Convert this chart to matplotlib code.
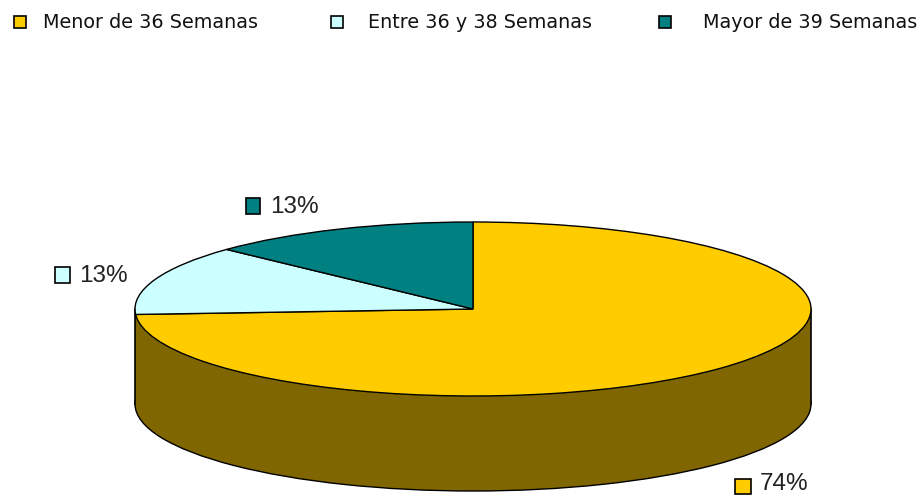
import matplotlib
matplotlib.use('Agg')
import matplotlib.pyplot as plt
from matplotlib.patches import Rectangle

plt.rcParams['font.family'] = ['Liberation Sans', 'DejaVu Sans']

categories = ['Menor de 36 Semanas', 'Entre 36 y 38 Semanas', 'Mayor de 39 Semanas']
values = [74, 13, 13]
labels = ['74%', '13%', '13%']
colors = ['#FFCC00', '#CCFFFF', '#008080']
side_color = '#806600'

W, H = 923, 497
fig = plt.figure(figsize=(W / 100, H / 100), dpi=100)

# pie axes is the box of the top ellipse, in pixels
cx, cy, rx, ry = 473, 309, 338, 87
depth = 95 / ry
ax = fig.add_axes([(cx - rx) / W, 1 - (cy + ry) / H, 2 * rx / W, 2 * ry / H])

# side wall: lower pie plus a block up to the top face
ax.pie([1], colors=[side_color], startangle=90, center=(0, -depth),
       wedgeprops=dict(edgecolor='black', linewidth=1.0, zorder=1))
ax.add_patch(Rectangle((-1, -depth), 2, depth, facecolor=side_color,
                       edgecolor='none', clip_on=False, zorder=2))
ax.plot([-1, -1], [0, -depth], color='black', lw=1.2, clip_on=False, zorder=3)
ax.plot([1, 1], [0, -depth], color='black', lw=1.2, clip_on=False, zorder=3)

wedges, _ = ax.pie(values, colors=colors, startangle=90, counterclock=False,
                   wedgeprops=dict(edgecolor='black', linewidth=1.0))
for w in wedges:
    w.set_zorder(4)

ax.set_aspect('auto')
ax.set_xlim(-1, 1)
ax.set_ylim(-1, 1)

# overlay in pixel coordinates for legend and labels
ov = fig.add_axes([0, 0, 1, 1], facecolor='none')
ov.set_xlim(0, W)
ov.set_ylim(H, 0)
ov.axis('off')


def swatch(x, y, w, h, color):
    ov.add_patch(Rectangle((x, y), w, h, facecolor=color, edgecolor='black', linewidth=1.2))


legend_sw = [14, 331, 659]
legend_tx = [43, 368, 703]
for name, c, sx, tx in zip(categories, colors, legend_sw, legend_tx):
    swatch(sx, 16, 12, 12, c)
    ov.text(tx, 23, name, fontsize=13.8, va='center', ha='left', color='#111111',
            family='DejaVu Sans')

label_sw = [(735, 479, 16, 15), (55, 267, 15, 16), (246, 198, 14, 16)]
label_tx = [(760, 484.5), (79, 276), (270, 207)]
for lab, c, (sx, sy, sw, sh), (tx, ty) in zip(labels, colors, label_sw, label_tx):
    swatch(sx, sy, sw, sh, c)
    ov.text(tx, ty, lab, fontsize=17.5, va='center', ha='left', color='#222222')

fig.savefig('out.png', dpi=100)
